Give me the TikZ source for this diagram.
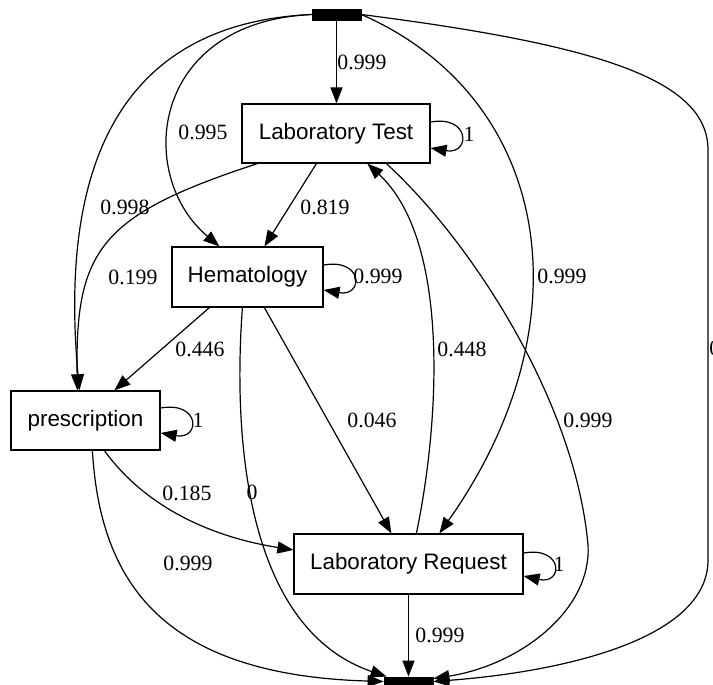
\documentclass[tikz,border=0pt]{standalone}
\usepackage{fontspec}
\setmainfont{Liberation Serif}
\setsansfont{Liberation Sans}
\usetikzlibrary{arrows.meta,calc}
\tikzset{
  box/.style={draw, line width=0.6pt, inner sep=0pt, font=\sffamily\fontsize{11.2pt}{13pt}\selectfont},
  bar/.style={draw, fill=black, inner sep=0pt, minimum width=24.5pt, minimum height=5.5pt},
  edge/.style={line width=0.6pt, -{Triangle[length=8pt,width=6pt]}},
  lbl/.style={inner sep=0pt, font=\fontsize{10.9pt}{13pt}\selectfont}
}
\begin{document}
\begin{tikzpicture}[x=0.5pt,y=-0.5pt]
\useasboundingbox (0,0) rectangle (713,685);
\fill[white] (0,0) rectangle (713,685);
\clip (0,0) rectangle (713,685);
% nodes
\node[bar] (st) at (336.5,14.5) {};
\node[bar] (en) at (408.5,682.5) {};
\node[box, minimum width=94pt, minimum height=29.5pt] (lt) at (336,133.5) {Laboratory Test};
\node[box, minimum width=75.5pt, minimum height=30pt] (he) at (247.5,277) {Hematology};
\node[box, minimum width=74.5pt, minimum height=29.5pt] (pr) at (85.5,420.5) {prescription};
\node[box, minimum width=114.5pt, minimum height=30pt] (lr) at (408.5,564) {Laboratory Request};
% edges
\draw[edge] (st.south) -- (st.south |- lt.north);
\draw[edge] (st.west) .. controls (150,22) and (135,175) .. ($(he.north west)+(48,0)$);
\draw[edge] (st.west) .. controls (80,25) and (65,230) .. ($(pr.north west)+(69,0)$);
\draw[edge] ($(lt.south west)+(16,0)$) .. controls (100,215) and (75,250) .. ($(pr.north west)+(67,0)$);
\draw[edge] ($(lt.south west)+(75,0)$) -- ($(he.north west)+(93,0)$);
\draw[edge] ($(he.south west)+(38,0)$) -- ($(pr.north west)+(104,0)$);
\draw[edge] ($(he.south west)+(71,0)$) .. controls (232,450) and (250,630) .. ($(en.north west)+(3,0)$);
\draw[edge] ($(he.south west)+(93,0)$) -- ($(lr.north west)+(98,0)$);
\draw[edge] ($(pr.south west)+(94,0)$) .. controls (140,500) and (200,535) .. ($(lr.west)+(0,-14)$);
\draw[edge] ($(pr.south west)+(82,0)$) .. controls (100,580) and (160,675) .. ($(en.west)+(0,-1)$);
\draw[edge] (lr.south) -- (en.north);
\draw[edge] ($(lr.north west)+(123,0)$) .. controls (440,420) and (450,240) .. ($(lt.south west)+(126,0)$);
\draw[edge] (st.east) .. controls (550,97) and (590,320) .. ($(lr.north west)+(146,0)$);
\draw[edge] ($(lt.south west)+(145,0)$) .. controls (470,240) and (575,400) .. (588,545) .. controls (592,610) and (520,665) .. ($(en.north east)+(0,2)$);
\draw[edge] (st.east) .. controls (600,45) and (708,80) .. (708,150) -- (708,560) .. controls (708,640) and (560,672) .. ($(en.east)+(0,-1)$);
% self loops
\draw[edge] ($(lt.east)+(0,-11.5)$) .. controls ($(lt.east)+(40,-18.5)$) and ($(lt.east)+(40,21.5)$) .. ($(lt.east)+(0,14.5)$);
\draw[edge] ($(he.east)+(0,-12)$) .. controls ($(he.east)+(40,-19)$) and ($(he.east)+(40,20)$) .. ($(he.east)+(0,13)$);
\draw[edge] ($(pr.east)+(0,-12.5)$) .. controls ($(pr.east)+(40,-19.5)$) and ($(pr.east)+(40,19.5)$) .. ($(pr.east)+(0,12.5)$);
\draw[edge] ($(lr.east)+(0,-11)$) .. controls ($(lr.east)+(40,-18)$) and ($(lr.east)+(40,21)$) .. ($(lr.east)+(0,12)$);
% labels
\node[lbl] (l1) at (362,62) {0.999};
\node[lbl] (l2) at (203,132) {0.995};
\node[lbl] (l3) at (125,207) {0.998};
\node[lbl] (l4) at (133,277) {0.199};
\node[lbl] (l5) at (325,207) {0.819};
\node[lbl] (l6) at (469,134) {1};
\node[lbl] (l7) at (378,276) {0.999};
\node[lbl] (l8) at (200,349) {0.446};
\node[lbl] (l9) at (372,420) {0.046};
\node[lbl] (l10) at (462,349) {0.448};
\node[lbl] (l11) at (562,276) {0.999};
\node[lbl] (l12) at (588,420) {0.999};
\node[lbl] (l13) at (198,420) {1};
\node[lbl] (l14) at (187,493) {0.185};
\node[lbl] (l15) at (252,492) {0};
\node[lbl] (l16) at (188,563) {0.999};
\node[lbl] (l17) at (559,564) {1};
\node[lbl] (l18) at (440,635) {0.999};
\node[lbl, anchor=west] (l19) at (709,348) {0.999};
\end{tikzpicture}
\end{document}
